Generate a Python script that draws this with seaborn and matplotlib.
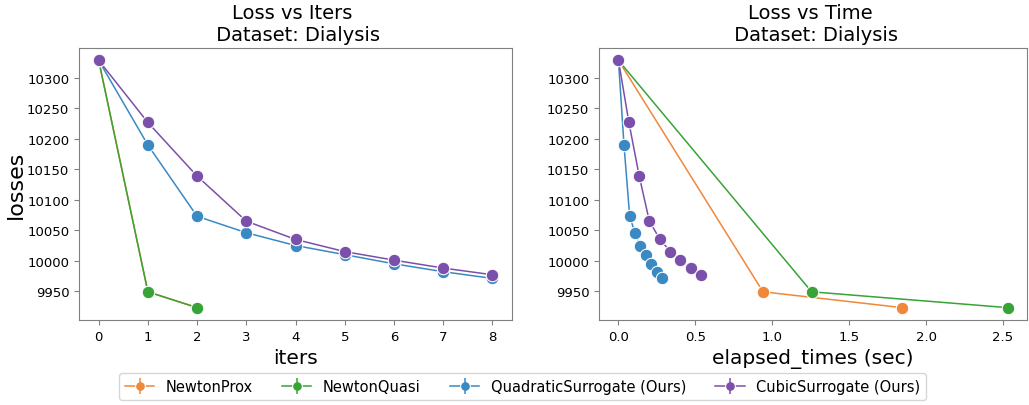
import matplotlib
matplotlib.use("Agg")
import matplotlib.pyplot as plt
from matplotlib.lines import Line2D
from matplotlib.legend_handler import HandlerTuple
from matplotlib.ticker import MultipleLocator
import numpy as np
import pandas as pd
import seaborn as sns

# Loss trajectories on the Dialysis dataset
methods = ["NewtonProx", "NewtonQuasi", "QuadraticSurrogate (Ours)", "CubicSurrogate (Ours)"]

prox_losses = [10329, 9949, 9923]
prox_times = [0.0, 0.94, 1.845]

quasi_losses = [10329, 9949, 9923]
quasi_times = [0.0, 1.256, 2.53]

quad_losses = [10329, 10190, 10073, 10046, 10025, 10010, 9995, 9982, 9971]
quad_times = [0.0, 0.036, 0.073, 0.107, 0.142, 0.178, 0.214, 0.249, 0.283]

cubic_losses = [10329, 10227, 10139, 10065, 10035, 10015, 10001, 9988, 9977]
cubic_times = [0.0, 0.068, 0.135, 0.201, 0.270, 0.338, 0.400, 0.469, 0.537]

colors = ["#f0883a", "#38a336", "#3a89c3", "#7b50aa"]

frames = []
for name, losses, times in zip(
    methods,
    [prox_losses, quasi_losses, quad_losses, cubic_losses],
    [prox_times, quasi_times, quad_times, cubic_times],
):
    frames.append(pd.DataFrame({
        "method": name,
        "iters": np.arange(len(losses)),
        "elapsed_times": times,
        "losses": losses,
    }))
df = pd.concat(frames, ignore_index=True)

plt.rcParams.update({
    "axes.edgecolor": "#808080",
    "xtick.color": "#808080",
    "ytick.color": "#808080",
    "xtick.labelcolor": "black",
    "ytick.labelcolor": "black",
    "xtick.labelsize": 9.5,
    "ytick.labelsize": 9.5,
})

fig = plt.figure(figsize=(10.29, 4.06), dpi=100)
W, H = 1029, 406
ax1 = fig.add_axes([79 / W, 1 - 321 / H, (512 - 79) / W, (321 - 49) / H])
ax2 = fig.add_axes([599 / W, 1 - 321 / H, (1027 - 599) / W, (321 - 49) / H])

palette = dict(zip(methods, colors))
common = dict(data=df, y="losses", hue="method", hue_order=methods, palette=palette,
              marker="o", markersize=9, linewidth=1.1, legend=False)

sns.lineplot(x="iters", ax=ax1, **common)
sns.lineplot(x="elapsed_times", ax=ax2, **common)

for ax in (ax1, ax2):
    ax.yaxis.set_major_locator(MultipleLocator(50))
ax1.xaxis.set_major_locator(MultipleLocator(1))
ax2.xaxis.set_major_locator(MultipleLocator(0.5))

ax1.set_title("Loss vs Iters \n Dataset: Dialysis", fontsize=14)
ax2.set_title("Loss vs Time \n Dataset: Dialysis", fontsize=14)
ax1.set_xlabel("iters", fontsize=14.5)
ax1.set_ylabel("losses", fontsize=16, labelpad=1)
ax2.set_xlabel("elapsed_times (sec)", fontsize=14.5)
ax2.set_ylabel("")

handles = []
for c in colors:
    dot = Line2D([], [], color=c, marker="o", markersize=7,
                 markeredgecolor="w", markeredgewidth=0.75, linewidth=1.1)
    bar = Line2D([], [], color=c, marker="|", markersize=11,
                 linestyle="none", markeredgewidth=1.1)
    handles.append((dot, bar))

fig.legend(handles, methods, loc="lower center", bbox_to_anchor=(0.508, -0.006),
           ncol=4, fontsize=10.5, handler_map={tuple: HandlerTuple(ndivide=1)},
           frameon=True, columnspacing=2.0)

fig.savefig("out.png", dpi=100)
